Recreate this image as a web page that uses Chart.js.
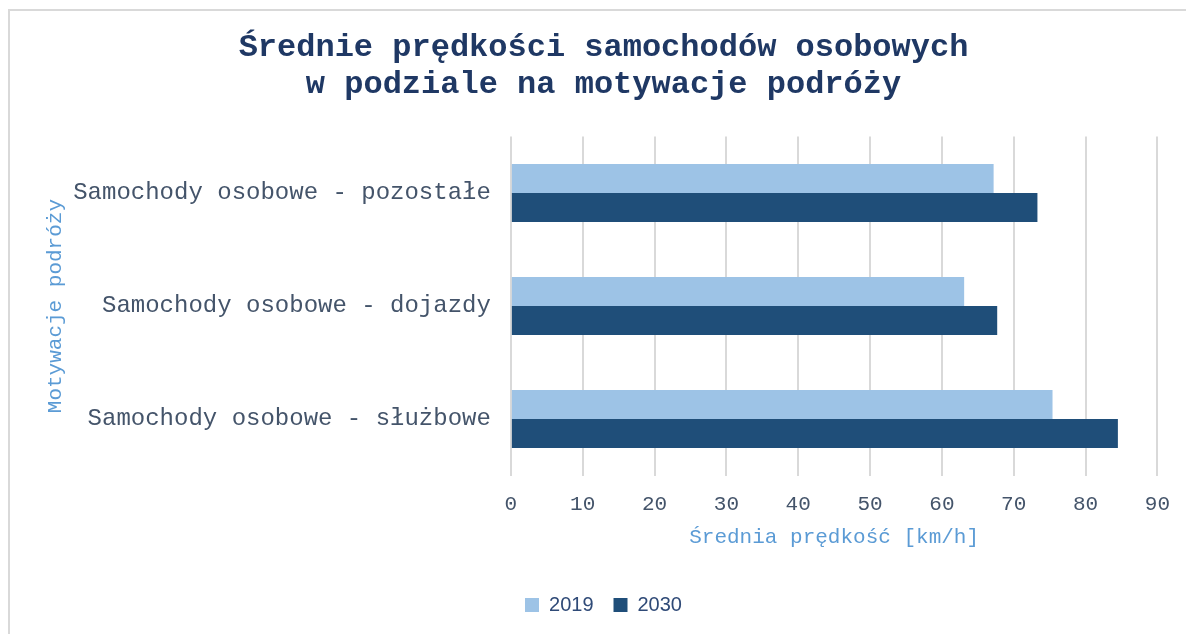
<!DOCTYPE html>
<html>
<head>
<meta charset="utf-8">
<script src="https://cdn.jsdelivr.net/npm/chart.js@4.4.1/dist/chart.umd.min.js"></script>
<style>
html,body{margin:0;padding:0;background:#fff;}
#wrap{position:relative;width:1186px;height:634px;overflow:hidden;}
#frame{position:absolute;left:8px;top:9px;width:1200px;height:700px;border-left:2px solid #D9D9D9;border-top:2px solid #D9D9D9;}
canvas{position:absolute;left:0;top:0;}
</style>
</head>
<body>
<div id="wrap"><div id="frame"></div><canvas id="c" width="1186" height="634"></canvas></div>
<script>
const categories = ["Samochody osobowe - pozostałe", "Samochody osobowe - dojazdy", "Samochody osobowe - służbowe"];
const seriesNames = ["2019", "2030"];
const values2019 = [67.2, 63.1, 75.4];
const values2030 = [73.3, 67.7, 84.5];
const titleLines = ["Średnie prędkości samochodów osobowych", "w podziale na motywacje podróży"];
const xAxisTitle = "Średnia prędkość [km/h]";
const yAxisTitle = "Motywacje podróży";

const mono = "'Liberation Mono', 'Courier New', monospace";
new Chart(document.getElementById('c'), {
  type: 'bar',
  data: {
    labels: categories,
    datasets: [
      {label: seriesNames[0], data: values2019, backgroundColor: '#9DC3E6', borderWidth: 0},
      {label: seriesNames[1], data: values2030, backgroundColor: '#1F4E79', borderWidth: 0}
    ]
  },
  options: {
    indexAxis: 'y',
    responsive: false,
    animation: false,
    devicePixelRatio: 1,
    layout: {padding: {left: 43, right: 22, top: 30, bottom: 9}},
    datasets: {bar: {categoryPercentage: 0.513, barPercentage: 1.0}},
    plugins: {
      title: {
        display: true,
        text: titleLines,
        color: '#1F3864',
        font: {family: mono, size: 32, weight: 'bold', lineHeight: 1.15},
        padding: {top: 0, bottom: 33}
      },
      legend: {
        position: 'bottom',
        labels: {
          color: '#2F4A77',
          font: {family: "'Liberation Sans', Arial, sans-serif", size: 20},
          boxWidth: 14, boxHeight: 14, padding: 20
        }
      },
      tooltip: {enabled: false}
    },
    scales: {
      x: {
        min: 0, max: 90,
        ticks: {stepSize: 10, color: '#44546A', font: {family: mono, size: 21}, padding: 16},
        grid: {color: '#D9D9D9', lineWidth: 2, drawTicks: false},
        border: {display: false},
        title: {display: true, text: xAxisTitle, color: '#5B9BD5', font: {family: mono, size: 21}, padding: {top: -8, bottom: 25}}
      },
      y: {
        ticks: {color: '#44546A', font: {family: mono, size: 24}, padding: 20},
        grid: {display: false, drawTicks: false},
        border: {display: false},
        title: {display: true, text: yAxisTitle, color: '#5B9BD5', font: {family: mono, size: 21}, padding: {top: 0, bottom: -15}}
      }
    }
  }
});
</script>
</body>
</html>
